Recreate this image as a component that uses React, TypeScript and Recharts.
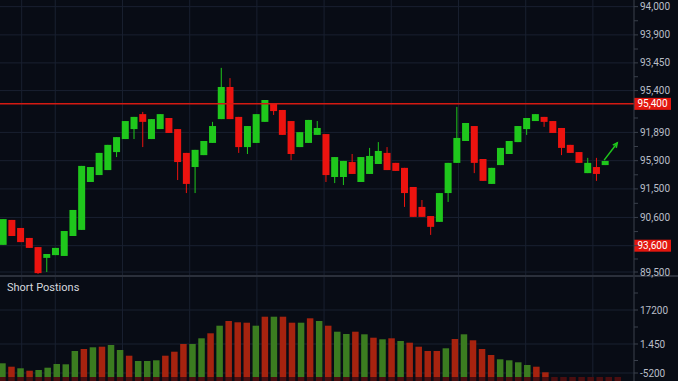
import { Bar, CartesianGrid, ComposedChart, ReferenceLine, XAxis, YAxis } from "recharts";

// candles, left to right
const opens = [
  89680, 90130, 89985, 89805, 89640, 89445, 89495, 89480, 89840, 89950,
  90815, 90940, 91030, 91355, 91590, 91770, 92040, 91590, 91770, 91970,
  91770, 91340, 91085, 91300, 91520, 91950, 92530, 91990, 91445, 91520,
  91900, 92225, 92115, 91915, 91445, 91520, 91665, 91680, 90905, 90905,
  91175, 90815, 90960, 91140, 91340, 91160, 91070, 90725, 90365, 90200,
  90095, 90615, 91160, 91555, 91825, 91230, 90780, 91120, 91320, 91535,
  91770, 91915, 91990, 91915, 91790, 91485, 91355, 90975, 91085, 91120,
];
const closes = [
  90145, 89840, 89730, 89625, 89170, 89515, 89625, 89930, 90310, 91105,
  91085, 91340, 91485, 91625, 91915, 91990, 91900, 91950, 92040, 91700,
  91175, 90780, 91395, 91555, 91825, 92530, 91950, 91445, 91825, 92040,
  92295, 92095, 91665, 91320, 91715, 91935, 91790, 90940, 91265, 91195,
  90960, 91265, 91285, 91375, 91030, 91015, 90615, 90185, 90185, 90005,
  90615, 91160, 91610, 91880, 91160, 90835, 91070, 91430, 91555, 91825,
  91970, 92040, 91900, 91700, 91430, 91340, 91160, 91160, 90960, 91195,
];
const highs = [
  90145, 90130, 89985, 89805, 89640, 89515, 89625, 89930, 90310, 91105,
  91085, 91340, 91485, 91625, 91915, 91990, 92080, 91950, 92040, 91970,
  91770, 91340, 91395, 91555, 91900, 92875, 92690, 91990, 91825, 92040,
  92295, 92225, 92115, 91915, 91715, 91935, 91915, 91680, 91265, 91195,
  91320, 91265, 91430, 91535, 91445, 91160, 91070, 90725, 90490, 90200,
  90615, 91160, 92170, 91880, 91825, 91230, 91070, 91430, 91555, 91825,
  91970, 92040, 91990, 91915, 91790, 91485, 91355, 91250, 91250, 91195,
];
const lows = [
  89680, 89840, 89730, 89625, 89155, 89190, 89495, 89480, 89840, 89950,
  90815, 90940, 91030, 91265, 91590, 91590, 91445, 91590, 91770, 91700,
  90850, 90615, 90615, 91300, 91520, 91950, 91950, 91340, 91320, 91520,
  91900, 92025, 91665, 91210, 91445, 91520, 91665, 90815, 90795, 90760,
  90960, 90815, 90960, 91140, 91030, 91015, 90365, 90185, 90185, 89860,
  90095, 90455, 91160, 91555, 90975, 90835, 90780, 91120, 91320, 91535,
  91665, 91915, 91810, 91700, 91300, 91340, 91160, 90975, 90835, 91120,
];

const resistance = 92225;
const lastQuote = 89665;
const arrowStart = { i: 69.9, price: 91210 };
const arrowEnd = { i: 71.4, price: 91520 };

const priceTicks = [93980, 93470, 92965, 92465, 91710, 91200, 90690, 90175, 89665, 89190];
const priceLabels = ["94,000", "93,900", "93,450", "95,400", "91,890", "95,900", "91,500", "90,600", "", "89,500"];
const priceMinorTicks = [93725, 93215, 92715, 91970, 91455, 90945, 90430, 89920, 89425];
const priceGridX = [3.14, 6.99, 10.85, 14.7, 18.55, 22.4, 26.25, 30.1, 33.95, 37.8, 41.65, 45.5, 49.36, 53.21, 57.06, 60.91, 64.76, 68.61];

// short positions panel
const shortValues = [
  2740, 2060, 1740, 1260, 1400, 1860, 2600, 2540, 5200, 5600,
  5940, 6060, 6400, 5400, 4260, 3200, 3200, 3340, 4260, 5060,
  6600, 6600, 7740, 8740, 10260, 11200, 10940, 10860, 10260, 12060,
  12060, 12060, 10860, 10860, 11740, 11200, 10260, 9060, 8600, 9060,
  8540, 7860, 7540, 7740, 7200, 6860, 6060, 5200, 5200, 5740,
  7600, 8540, 7340, 5600, 4400, 3540, 3340, 2940, 2400, 2060,
  940, 0, 0, 0, 0, 0, 0, 0, 0,
];
const shortSide = [
  "up", "down", "up", "down", "up", "up", "up", "up", "up", "down",
  "up", "down", "up", "up", "down", "up", "up", "up", "down", "down",
  "down", "up", "up", "down", "up", "down", "down", "down", "up", "down",
  "up", "down", "down", "up", "down", "up", "down", "up", "up", "down",
  "up", "down", "up", "down", "up", "down", "down", "down", "down", "up",
  "down", "up", "down", "down", "down", "up", "up", "up", "up", "down",
  "down", "down", "down", "down", "down", "down", "down", "down", "down",
];
const shortTicks = [13400, 6600, 800];
const shortLabels = ["17200", "1.450", "-5200"];
const shortMinorTicks = [16800, 10000, 3300];
const shortGridX = [3.1, 6.81, 10.52, 14.24, 17.95, 21.66, 25.37, 29.09, 32.8, 36.51, 40.22, 43.94, 47.65, 51.36, 55.08, 58.79, 62.5, 66.21];
const SHORT_FLOOR = -800;

const BG = "#080c15";
const GRID = "#192030";
const AXIS = "#3a404c";
const GREEN = "#1fc71c";
const RED = "#ec130f";
const VOL_GREEN = "#3b7c20";
const VOL_RED = "#a6230f";
const VOL_BASE = "#4a0e10";
const TICK = { fill: "#b9bec8", fontSize: 10, fontFamily: "Roboto" };

const candles = opens.map((open, k) => ({
  i: k + 1,
  open,
  close: closes[k],
  high: highs[k],
  low: lows[k],
}));

const shorts = shortValues.map((v, k) => ({ i: k + 1, v, side: shortSide[k] }));

function Candle(props: any) {
  const { x, y, width, height, payload } = props;
  const { open, close, high, low } = payload;
  const color = close >= open ? GREEN : RED;
  const top = Math.min(y, y + height);
  const h = Math.abs(height);
  const k = high === low ? 0 : h / (high - low);
  const bodyTop = top + (high - Math.max(open, close)) * k;
  const bodyH = Math.max(1, Math.abs(open - close) * k);
  const cx = x + width / 2;
  return (
    <g>
      <line x1={cx} x2={cx} y1={top} y2={top + h} stroke={color} strokeWidth={1} />
      <rect x={x} y={bodyTop} width={width} height={bodyH} fill={color} />
    </g>
  );
}

function ShortBar(props: any) {
  const { x, y, width, height, payload } = props;
  const top = Math.min(y, y + height);
  const h = Math.abs(height);
  const k = h / (payload.v - SHORT_FLOOR);
  const zeroY = top + payload.v * k;
  return (
    <g>
      {payload.v > 0 && (
        <rect x={x} y={top} width={width} height={zeroY - top}
          fill={payload.side === "up" ? VOL_GREEN : VOL_RED} />
      )}
      <rect x={x} y={zeroY} width={width} height={top + h - zeroY} fill={VOL_BASE} />
    </g>
  );
}

function PriceBox({ viewBox, text }: any) {
  const x = viewBox.x + viewBox.width;
  const y = viewBox.y;
  return (
    <g>
      <rect x={x} y={y - 6} width={37} height={12} fill="#e3170f" />
      <text x={x + 18.5} y={y + 3.5} textAnchor="middle" fontSize={10} fontFamily="Roboto" fill="#fff">
        {text}
      </text>
    </g>
  );
}

function Arrow(props: any) {
  const { x1, y1, x2, y2 } = props;
  const a = Math.atan2(y2 - y1, x2 - x1);
  const s = 5;
  const p1 = [x2 - s * Math.cos(a - 0.45), y2 - s * Math.sin(a - 0.45)];
  const p2 = [x2 - s * Math.cos(a + 0.45), y2 - s * Math.sin(a + 0.45)];
  return (
    <g stroke={GREEN} strokeWidth={1.5} fill="none">
      <line x1={x1} y1={y1} x2={x2} y2={y2} />
      <polyline points={`${p1[0]},${p1[1]} ${x2},${y2} ${p2[0]},${p2[1]}`} />
    </g>
  );
}

const priceFmt = (v: number) => {
  const idx = priceTicks.indexOf(v);
  return idx >= 0 ? priceLabels[idx] : "";
};
const shortFmt = (v: number) => {
  const idx = shortTicks.indexOf(v);
  return idx >= 0 ? shortLabels[idx] : "";
};

export default function App() {
  return (
    <div style={{ position: "fixed", left: 0, top: 0, width: 678, height: 381, background: BG, overflow: "hidden", fontFamily: "Roboto" }}>
      <style>{".recharts-surface{overflow:visible}"}</style>
      <ComposedChart width={678} height={275} data={candles} margin={{ top: 0, right: 0, bottom: 0, left: 0 }}
        style={{ zIndex: 2 }}>
        <CartesianGrid stroke={GRID} horizontalValues={priceTicks} verticalValues={priceGridX} />
        <XAxis type="number" dataKey="i" domain={[0.656, 73.32]} allowDataOverflow hide />
        <YAxis
          orientation="right"
          width={44}
          domain={[89136, 94100]}
          allowDataOverflow
          ticks={[...priceTicks, ...priceMinorTicks].sort((a, b) => b - a)}
          interval={0}
          tickFormatter={priceFmt}
          tick={TICK}
          tickSize={4}
          tickMargin={2}
          axisLine={{ stroke: AXIS }}
          tickLine={{ stroke: AXIS }}
        />
        <ReferenceLine y={resistance} stroke="#d41a12" strokeWidth={1.5}
          label={(p: any) => <PriceBox {...p} text="95,400" />} />
        <ReferenceLine y={lastQuote} stroke="none"
          label={(p: any) => <PriceBox {...p} text="93,600" />} />
        <Bar dataKey={(d: any) => [d.low, d.high]} barSize={7} shape={Candle} isAnimationActive={false} />
        <ReferenceLine
          segment={[{ x: arrowStart.i, y: arrowStart.price }, { x: arrowEnd.i, y: arrowEnd.price }]}
          shape={Arrow}
        />
      </ComposedChart>
      <div style={{ height: 2, background: "#2b303b" }} />
      <div style={{ position: "relative" }}>
        <ComposedChart width={678} height={104} data={shorts} margin={{ top: 0, right: 0, bottom: 0, left: 0 }}>
          <CartesianGrid stroke={GRID} horizontalValues={shortTicks} verticalValues={shortGridX} />
          <XAxis type="number" dataKey="i" domain={[0.7, 70.76]} allowDataOverflow hide />
          <YAxis
            orientation="right"
            width={44}
            domain={[SHORT_FLOOR, 20000]}
            allowDataOverflow
            ticks={[...shortTicks, ...shortMinorTicks].sort((a, b) => b - a)}
            interval={0}
            tickFormatter={shortFmt}
            tick={TICK}
            tickSize={4}
            tickMargin={2}
            axisLine={{ stroke: AXIS }}
            tickLine={{ stroke: AXIS }}
          />
          <Bar dataKey={(d: any) => [SHORT_FLOOR, d.v]} barSize={6.5} shape={ShortBar} isAnimationActive={false} />
        </ComposedChart>
        <div style={{ position: "absolute", left: 7, top: 4, color: "#d5d8de", fontSize: 11, fontFamily: "Roboto" }}>
          Short Postions
        </div>
      </div>
    </div>
  );
}
